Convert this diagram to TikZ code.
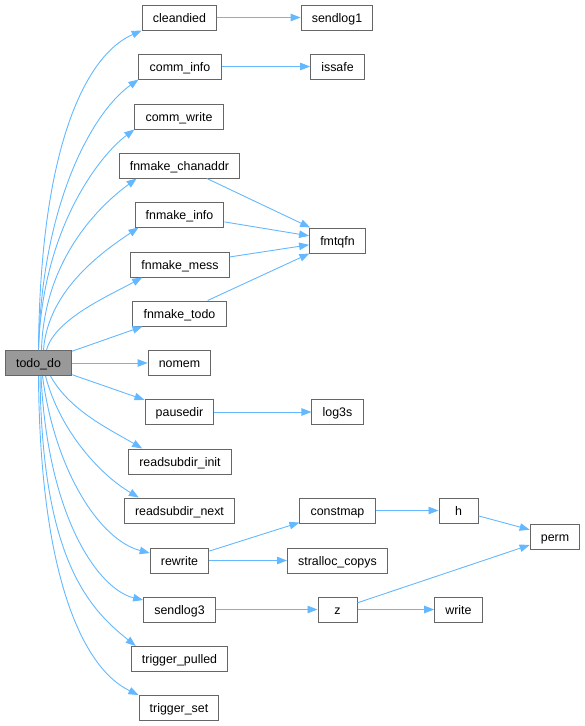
\documentclass[tikz,border=0pt]{standalone}
\usepackage{fontspec}
\setmainfont{Liberation Sans}
\usetikzlibrary{arrows.meta}
\definecolor{edgeblue}{HTML}{63B8FF}
\definecolor{boxgray}{HTML}{666666}
\definecolor{rootgray}{HTML}{999999}
\begin{document}
\begin{tikzpicture}[x=1pt, y=-1pt,
    fn/.style={draw=boxgray, fill=white, line width=1pt, minimum height=25pt, minimum width=39pt, inner xsep=10.7pt, inner ysep=0pt, text height=9.6pt, text depth=0pt, font=\fontsize{12.4}{14}\selectfont},
    root/.style={fn, fill=rootgray},
    call/.style={draw=edgeblue, line width=0.9pt, -{Triangle[length=10pt,width=7.5pt]}}
  ]
    \useasboundingbox (0,0) rectangle (585,726);
    \node[root] (todo) at (38.5,363) {todo\_do};
    \node[fn] (cleandied) at (179.5,17.5) {cleandied};
    \node[fn] (sendlog1) at (337,17.5) {sendlog1};
    \node[fn] (comminfo) at (180,66.5) {comm\_info};
    \node[fn] (issafe) at (337.5,66.5) {issafe};
    \node[fn] (commwrite) at (179,116.5) {comm\_write};
    \node[fn] (mkchan) at (179.5,165.5) {fnmake\_chanaddr};
    \node[fn] (mkinfo) at (179.5,214.5) {fnmake\_info};
    \node[fn] (fmtqfn) at (337.5,240.5) {fmtqfn};
    \node[fn] (mkmess) at (180,264.5) {fnmake\_mess};
    \node[fn] (mktodo) at (179.5,313.5) {fnmake\_todo};
    \node[fn] (nomem) at (179.5,363) {nomem};
    \node[fn] (pausedir) at (179.5,412) {pausedir};
    \node[fn] (log3s) at (337.5,412) {log3s};
    \node[fn] (rdinit) at (180,461.5) {readsubdir\_init};
    \node[fn] (rdnext) at (179.5,510.5) {readsubdir\_next};
    \node[fn] (constmap) at (337.5,510.5) {constmap};
    \node[fn] (h) at (458.5,510.5) {h};
    \node[fn] (perm) at (555,536.5) {perm};
    \node[fn] (rewrite) at (179.5,560.5) {rewrite};
    \node[fn] (copys) at (337.5,560.5) {stralloc\_copys};
    \node[fn] (sendlog3) at (179.5,609.5) {sendlog3};
    \node[fn] (z) at (337.5,609.5) {z};
    \node[fn] (write) at (458.5,609.5) {write};
    \node[fn] (trpulled) at (179.5,659) {trigger\_pulled};
    \node[fn] (trset) at (179,708) {trigger\_set};
    \draw[call] (todo.north) .. controls +(1.5,-201) and +(-57,25) .. (cleandied.south west);
    \draw[call] (todo.north) .. controls +(3.5,-151) and +(-44,31) .. (comminfo.south west);
    \draw[call] (todo.north) .. controls +(3.5,-121) and +(-35,26) .. (commwrite.south west);
    \draw[call] ([xshift=3pt]todo.north) .. controls +(2.5,-91) and +(-37,27) .. ([xshift=18pt]mkchan.south west);
    \draw[call] ([xshift=5pt]todo.north) .. controls +(4.5,-61) and +(-34,23) .. ([xshift=4pt]mkinfo.south west);
    \draw[call] ([xshift=8pt]todo.north) .. controls +(8.5,-31) and +(-33,18) .. ([xshift=12pt]mkmess.south west);
    \draw[call] (todo) -- (mktodo);
    \draw[call] (todo) -- (nomem);
    \draw[call] (todo) -- (pausedir);
    \draw[call] ([xshift=12pt]todo.south) .. controls +(19.5,35) and +(-32,-19) .. ([xshift=14pt]rdinit.north west);
    \draw[call] ([xshift=7pt]todo.south) .. controls +(14.5,55) and +(-39,-23) .. ([xshift=15pt]rdnext.north west);
    \draw[call] ([xshift=4pt]todo.south) .. controls +(12.5,95) and +(-50,-13) .. ([yshift=7.5pt]rewrite.west);
    \draw[call] ([xshift=2.5pt]todo.south) .. controls +(7,145) and +(-43,-10) .. ([yshift=9.5pt]sendlog3.west);
    \draw[call] ([xshift=1.5pt]todo.south) .. controls +(2,185) and +(-46,-37) .. ([xshift=5pt]trpulled.north west);
    \draw[call] (todo.south) .. controls +(1.5,205) and +(-54,-26) .. (trset.north west);
    \draw[call] (cleandied) -- (sendlog1);
    \draw[call] (comminfo) -- (issafe);
    \draw[call] (mkchan) -- (fmtqfn);
    \draw[call] (mkinfo) -- (fmtqfn);
    \draw[call] (mkmess) -- (fmtqfn);
    \draw[call] (mktodo) -- (fmtqfn);
    \draw[call] (pausedir) -- (log3s);
    \draw[call] (rewrite) -- (constmap);
    \draw[call] (rewrite) -- (copys);
    \draw[call] (constmap) -- (h);
    \draw[call] (h) -- (perm);
    \draw[call] (sendlog3) -- (z);
    \draw[call] (z) -- (perm);
    \draw[call] (z) -- (write);
  \end{tikzpicture}
\end{document}
